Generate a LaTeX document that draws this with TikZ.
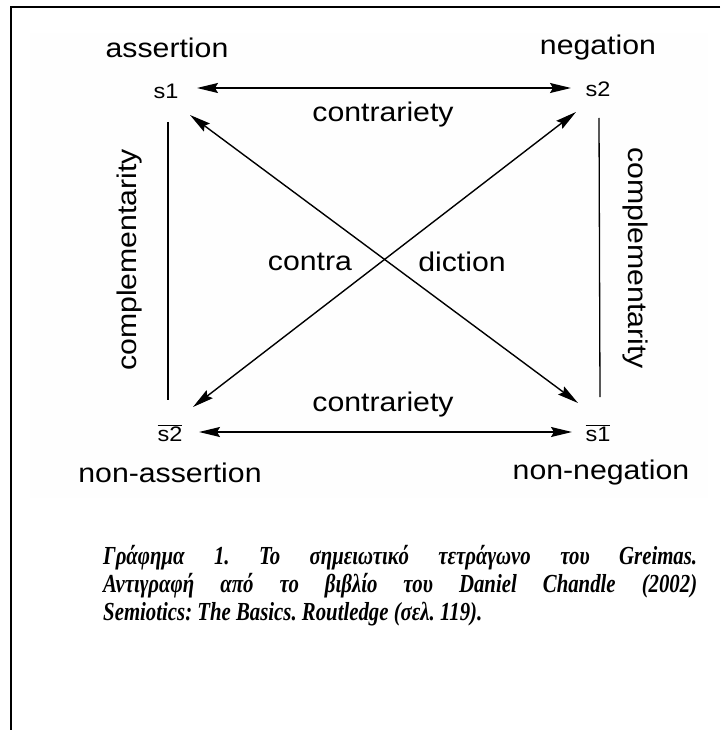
\documentclass[tikz,border=0pt]{standalone}
\usepackage{fontspec}
\newfontfamily\diagfont[FakeStretch=1.12]{Liberation Sans}
\newfontfamily\capfont[FakeStretch=0.80]{Liberation Serif}
\usetikzlibrary{arrows.meta}
\begin{document}
\begin{tikzpicture}[x=1pt,y=-1pt,
  lbl/.style={font=\diagfont\fontsize{27}{30}\selectfont, inner sep=0pt},
  sym/.style={font=\diagfont\fontsize{21}{23}\selectfont, inner sep=0pt},
  arr/.style={line width=1.4pt, {Stealth[length=21pt,width=10pt,inset=3pt]}-{Stealth[length=21pt,width=10pt,inset=3pt]}},
  frameline/.style={line width=2pt},
  vline/.style={line width=1.3pt}]
\useasboundingbox (0,0) rectangle (720,730);
\fill[gray!1] (30,33) rectangle (708,498);
\draw[frameline] (720,7) -- (11,7) -- (11,730);

% corner symbols
\node[sym] (s1) at (166,91) {s1};
\node[sym] (s2) at (598,89) {s2};
\node[sym] (ns2) at (170,433) {$\overline{\hbox{s2}}$};
\node[sym] (ns1) at (598,433) {$\overline{\hbox{s1}}$};

% corner labels
\node[lbl] (assert) at (167,48) {assertion};
\node[lbl] (neg) at (598,48) {negation};
\node[lbl] (nassert) at (170,473) {non-assertion};
\node[lbl] (nneg) at (601,473) {non-negation};

% relation labels
\node[lbl] (ctop) at (383,115) {contrariety};
\node[lbl] (cbot) at (383,405) {contrariety};
\node[lbl] (contra) at (310,262) {contra};
\node[lbl] (diction) at (462,262) {diction};
\node[lbl, rotate=90] (compl) at (130,260) {complementarity};
\node[lbl, rotate=-90] (compr) at (635,258) {complementarity};

% contrariety arrows
\draw[arr] ([shift={(31pt,3pt)}]s1.center) -- ([shift={(-27pt,1pt)}]s2.center);
\draw[arr] ([shift={(29pt,1pt)}]ns2.center) -- ([shift={(-26pt,1pt)}]ns1.center);

% contradiction arrows
\draw[arr] ([shift={(24pt,-24pt)}]s1.center) -- ([shift={(-20pt,30pt)}]ns1.center);
\draw[arr] ([shift={(-22pt,-23pt)}]s2.center) -- ([shift={(23pt,26pt)}]ns2.center);

% complementarity lines
\draw[vline] ([shift={(2pt,-31pt)}]s1.center) -- ([shift={(-2pt,33pt)}]ns2.center);
\draw[vline] ([shift={(1pt,-29pt)}]s2.center) -- ([shift={(2pt,36pt)}]ns1.center);

% caption
\node[anchor=north west, text width=594pt, align=justify, inner sep=0pt,
  font=\capfont\bfseries\itshape\fontsize{26}{28}\selectfont\frenchspacing] (cap) at (103,545)
  {Γράφημα 1. Το σημειωτικό τετράγωνο του Greimas.\linebreak
   Αντιγραφή από το βιβλίο του Daniel Chandle (2002)\linebreak
   Semiotics: The Basics. Routledge (σελ. 119).};
\end{tikzpicture}
\end{document}
